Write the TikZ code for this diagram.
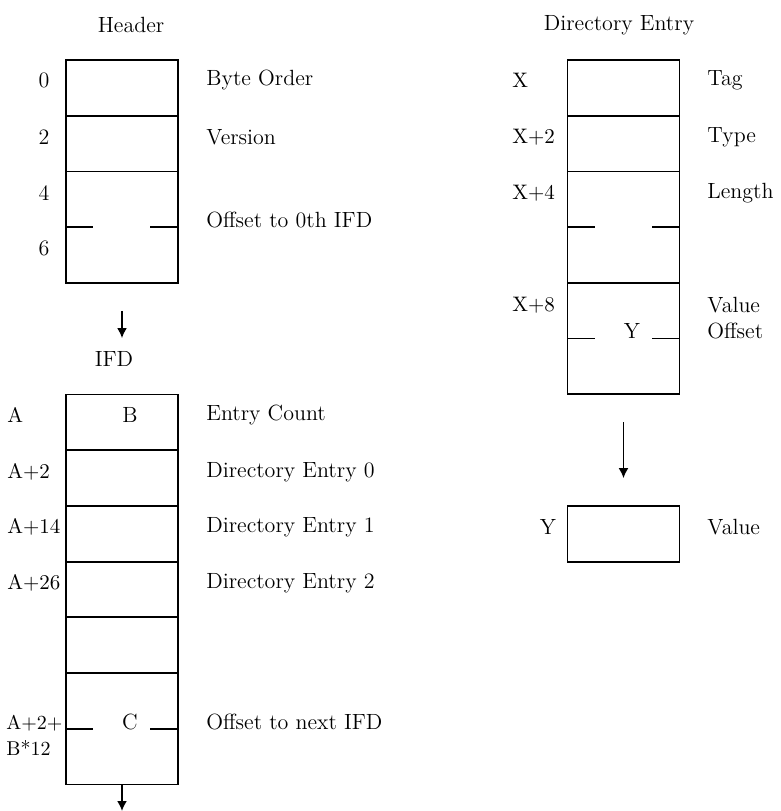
\documentclass[tikz,border=0pt]{standalone}
\usepackage{tikz}
\usetikzlibrary{arrows.meta,positioning}

\begin{document}
\begin{tikzpicture}[x=0.5pt,y=-0.5pt,font=\fontsize{11}{13}\selectfont,
  cell/.style={draw,line width=0.9pt,minimum width=56pt,minimum height=27.85pt,inner sep=0pt,outer sep=0pt},
  tall/.style={cell,minimum height=55.7pt},
  ttl/.style={inner sep=0pt},
  ofs/.style={inner sep=0pt,anchor=west,font=\fontsize{10.5}{13}\selectfont},
  fld/.style={inner sep=0pt,anchor=west,align=left},
  tick/.style={line width=0.9pt},
  a/.style={-{Latex[length=5pt,width=5pt]},line width=0.9pt}]
\useasboundingbox (0,0) rectangle (781,811);
% header
\node[ttl] (hdr) at (131,25) {Header};
\node[cell] (h0) at (122,87.85) {};
\node[cell,below=0pt of h0] (h1) {};
\node[tall,below=0pt of h1] (h2) {};
\draw[tick] (h2.west) -- ++(13.5pt,0);
\draw[tick] (h2.east) -- ++(-14pt,0);
\node[ttl] (o0) at (44,80) {0};
\node[ttl] (o2) at (44,137) {2};
\node[ttl] (o4) at (44,193) {4};
\node[ttl] (o6) at (44,248) {6};
\node[fld] (bo) at (206,80) {Byte Order};
\node[fld] (ver) at (206,137) {Version};
\node[fld] (off0) at (206,220) {Offset to 0th IFD};
% IFD
\node[ttl] (ifd) at (114,359) {IFD};
\draw[a,shorten <=14pt,shorten >=6.5pt] (h2.south) -- (h2.south |- ifd.north);
\node[cell] (i0) at (122,422.35) {};
\node[cell,below=0pt of i0] (i1) {};
\node[cell,below=0pt of i1] (i2) {};
\node[cell,below=0pt of i2] (i3) {};
\node[cell,below=0pt of i3] (i4) {};
\node[tall,below=0pt of i4] (i5) {};
\draw[tick] (i5.west) -- ++(13.5pt,0);
\draw[tick] (i5.east) -- ++(-14pt,0);
\node[ttl] (cnt) at (130,415) {B};
\node[ttl] (nxtoff) at (130,722) {C};
\node[ofs] (oa) at (7,415) {A};
\node[ofs] (oa2) at (7,472) {A+2};
\node[ofs] (oa14) at (7,527) {A+14};
\node[ofs] (oa26) at (7,583) {A+26};
\node[ofs,align=left,font=\fontsize{10}{13}\selectfont] (oan) at (6,735) {A+2+\\B*12};
\node[fld] (ec) at (206,415) {Entry Count};
\node[fld] (de0) at (206,472) {Directory Entry 0};
\node[fld] (de1) at (206,527) {Directory Entry 1};
\node[fld] (de2) at (206,583) {Directory Entry 2};
\node[fld] (offn) at (206,722) {Offset to next IFD};
\coordinate (nxt) at (122,811);
\draw[a] (i5) -- (nxt);
% directory entry
\node[ttl] (dir) at (619,25) {Directory Entry};
\node[cell] (d0) at (623.5,87.85) {};
\node[cell,below=0pt of d0] (d1) {};
\node[tall,below=0pt of d1] (d2) {};
\node[tall,below=0pt of d2] (d3) {};
\draw[tick] (d2.west) -- ++(13.5pt,0);
\draw[tick] (d2.east) -- ++(-14pt,0);
\draw[tick] (d3.west) -- ++(13.5pt,0);
\draw[tick] (d3.east) -- ++(-14pt,0);
\node[ttl] (vy) at (632,331) {Y};
\node[ofs] (ox) at (512,80) {X};
\node[ofs] (ox2) at (512,137) {X+2};
\node[ofs] (ox4) at (512,193) {X+4};
\node[ofs] (ox8) at (512,305) {X+8};
\node[fld] (tag) at (707,80) {Tag};
\node[fld] (typ) at (707,137) {Type};
\node[fld] (len) at (707,193) {Length};
\node[fld] (vo) at (707,318) {Value\\Offset};
% value
\node[cell] (val) at (623.5,534) {};
\draw[a,shorten <=14pt,shorten >=14pt] (d3) -- (val);
\node[ttl] (oy) at (548,527) {Y};
\node[fld] (vl) at (707,527) {Value};
\end{tikzpicture}
\end{document}
